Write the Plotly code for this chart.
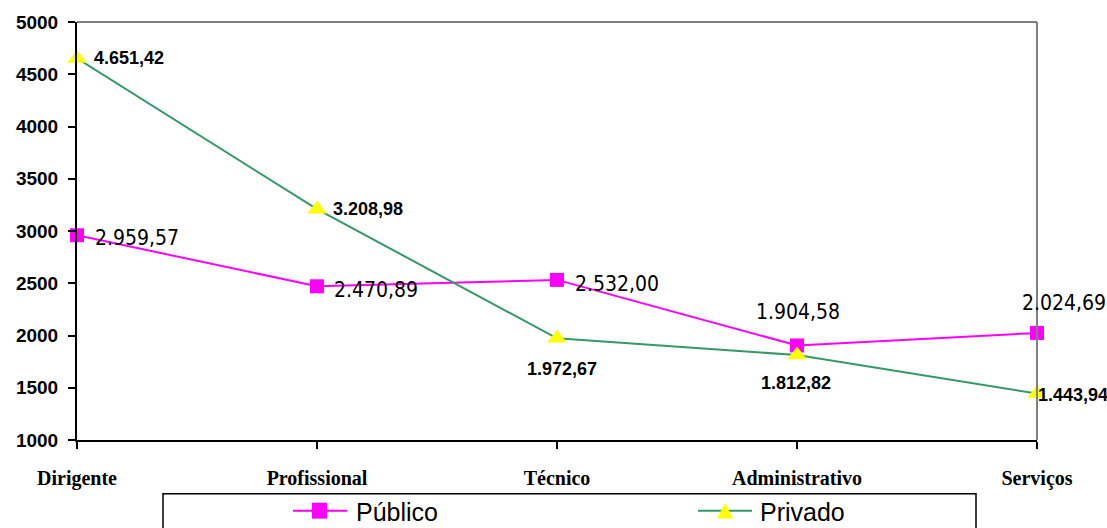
import plotly.graph_objects as go

# Salário médio por grupo ocupacional: setor público x setor privado
categorias = ["Dirigente", "Profissional", "Técnico", "Administrativo", "Serviços"]
publico = [2959.57, 2470.89, 2532.00, 1904.58, 2024.69]
privado = [4651.42, 3208.98, 1972.67, 1812.82, 1443.94]
y_ticks = [1000, 1500, 2000, 2500, 3000, 3500, 4000, 4500, 5000]

W, H = 1107, 528
ML, MR, MT, MB = 77, 70, 20, 88
PW, PH = W - ML - MR, H - MT - MB

MAGENTA = "#FF00FF"
VERDE = "#339966"
AMARELO = "#FFFF00"
CINZA = "#808080"

SANS = "Arial, Liberation Sans, sans-serif"
SERIF = "Times New Roman, Liberation Serif, serif"
NARROW = "Arial Narrow, DejaVu Sans Condensed, sans-serif"


def br(v):
    """Formata número no padrão brasileiro: 1.234,56"""
    s = f"{v:,.2f}"
    return s.replace(",", "X").replace(".", ",").replace("X", ".")


def px(x):
    return (x - ML) / PW


def py(y):
    return (MT + PH - y) / PH


xs = list(range(len(categorias)))

fig = go.Figure()
fig.add_trace(go.Scatter(
    x=xs, y=publico, mode="lines+markers", name="Público",
    line=dict(color=MAGENTA, width=2),
    marker=dict(symbol="square", size=14, color=MAGENTA),
    cliponaxis=False, showlegend=False,
))
fig.add_trace(go.Scatter(
    x=xs, y=privado, mode="lines+markers", name="Privado",
    line=dict(color=VERDE, width=2),
    marker=dict(symbol="triangle-up", size=17, color=AMARELO),
    cliponaxis=False, showlegend=False,
))

annotations = []
# rótulos do setor público (fonte condensada)
pub_pos = [
    dict(xanchor="left", yanchor="middle", xshift=16, yshift=-3),
    dict(xanchor="left", yanchor="middle", xshift=15, yshift=-4),
    dict(xanchor="left", yanchor="middle", xshift=16, yshift=-4),
    dict(xanchor="center", yanchor="middle", xshift=1, yshift=33),
    dict(xanchor="center", yanchor="middle", xshift=27, yshift=30),
]
for i, v in enumerate(publico):
    annotations.append(dict(
        x=xs[i], y=v, xref="x", yref="y", text=br(v), showarrow=False,
        font=dict(family=NARROW, size=21, color="black"), **pub_pos[i],
    ))

# rótulos do setor privado (negrito)
priv_pos = [
    dict(xanchor="left", yanchor="middle", xshift=15, yshift=0),
    dict(xanchor="left", yanchor="middle", xshift=14, yshift=0),
    dict(xanchor="center", yanchor="middle", xshift=5, yshift=-31),
    dict(xanchor="center", yanchor="middle", xshift=-1, yshift=-28),
    dict(xanchor="left", yanchor="middle", xshift=-1, yshift=-1),
]
for i, v in enumerate(privado):
    annotations.append(dict(
        x=xs[i], y=v, xref="x", yref="y", text=br(v), showarrow=False,
        font=dict(family=SANS, size=18, color="black", weight="bold"), **priv_pos[i],
    ))

# legenda desenhada abaixo do gráfico
shapes = [
    # moldura superior e direita em cinza
    dict(type="line", xref="paper", yref="paper", x0=0, x1=1, y0=1, y1=1,
         line=dict(color=CINZA, width=2)),
    dict(type="line", xref="paper", yref="paper", x0=1, x1=1, y0=0, y1=1,
         line=dict(color=CINZA, width=2)),
    # caixa da legenda
    dict(type="rect", xref="paper", yref="paper", x0=px(163), x1=px(976),
         y0=py(494), y1=py(545), line=dict(color="black", width=1.5),
         fillcolor="rgba(0,0,0,0)"),
    # Público
    dict(type="line", xref="paper", yref="paper", x0=px(293), x1=px(347),
         y0=py(511), y1=py(511), line=dict(color=MAGENTA, width=2)),
    dict(type="rect", xref="paper", yref="paper", x0=px(312), x1=px(327),
         y0=py(519), y1=py(503), line=dict(width=0), fillcolor=MAGENTA),
    # Privado
    dict(type="line", xref="paper", yref="paper", x0=px(698), x1=px(752),
         y0=py(511), y1=py(511), line=dict(color=VERDE, width=2)),
    dict(type="path", xref="paper", yref="paper",
         path=f"M {px(717)},{py(519)} L {px(733)},{py(519)} L {px(725)},{py(503)} Z",
         line=dict(width=0), fillcolor=AMARELO),
]
annotations += [
    dict(xref="paper", yref="paper", x=px(354), y=py(512), text="Público",
         showarrow=False, xanchor="left", yanchor="middle",
         font=dict(family=SANS, size=25, color="black")),
    dict(xref="paper", yref="paper", x=px(758), y=py(512), text="Privado",
         showarrow=False, xanchor="left", yanchor="middle",
         font=dict(family=SANS, size=25, color="black")),
]

fig.update_layout(
    width=W, height=H,
    margin=dict(l=ML, r=MR, t=MT, b=MB, pad=0),
    paper_bgcolor="white", plot_bgcolor="white",
    showlegend=False,
    shapes=shapes, annotations=annotations,
    xaxis=dict(
        range=[0, len(categorias) - 1], tickvals=xs, ticktext=categorias,
        showgrid=False, zeroline=False, showline=True, linecolor="black", linewidth=2,
        ticks="outside", ticklen=7, tickwidth=2, tickcolor="black",
        tickfont=dict(family=SERIF, size=20, color="black", weight="bold"),
        ticklabelstandoff=12,
    ),
    yaxis=dict(
        range=[1000, 5000], tickvals=y_ticks,
        showgrid=False, zeroline=False, showline=True, linecolor="black", linewidth=2,
        ticks="outside", ticklen=7, tickwidth=2, tickcolor="black",
        tickfont=dict(family=SANS, size=19, color="black", weight="bold"),
        ticklabelstandoff=6,
    ),
)

fig.write_html("out.html")
